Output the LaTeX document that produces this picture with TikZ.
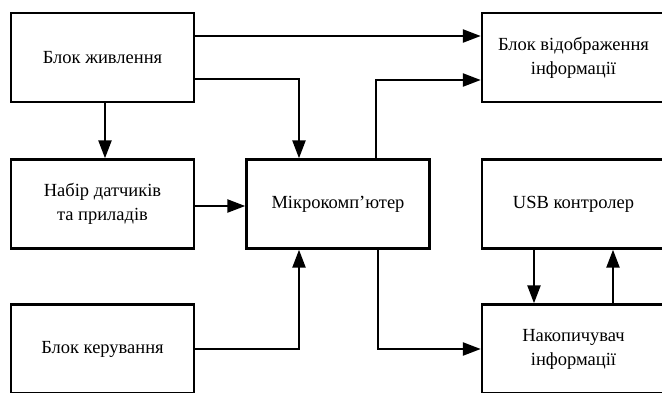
\documentclass[tikz,border=0pt]{standalone}
\usepackage{fontspec}
\setmainfont{Liberation Serif}
\usetikzlibrary{arrows.meta}
\tikzset{
    blok/.style={draw, line width=2.4pt, minimum width=183pt, minimum height=89pt,
        align=center, font=\fontsize{18.5}{24}\selectfont, inner sep=0pt},
    strilka/.style={line width=2.4pt, -{Triangle[length=18pt,width=13pt]}},
}

\begin{document}
\begin{tikzpicture}[x=1pt, y=-1pt]
    \useasboundingbox (0,0) rectangle (662,392);
    \clip (0,0) rectangle (662,392);
    \node[blok] (zhyvl) at (102.5,57.5) {Блок живлення};
    \node[blok] (datch) at (102.5,204) {Набір датчиків\\та приладів};
    \node[blok] (keruv) at (102.5,349) {Блок керування};
    \node[blok] (mikro) at (338,204) {Мікрокомп’ютер};
    \node[blok] (vidobr) at (573.5,57.5) {Блок відображення\\інформації};
    \node[blok] (usb) at (573.5,204) {USB контролер};
    \node[blok] (nakop) at (573.5,349) {Накопичувач\\інформації};
    % zv'yazky
    \draw[strilka] ([yshift=21.5pt]zhyvl.east) -- ([yshift=21.5pt]vidobr.west);
    \draw[strilka] ([yshift=-21.5pt]zhyvl.east) -| ([xshift=-39pt]mikro.north);
    \draw[strilka] ([xshift=2.5pt]zhyvl.south) -- ([xshift=2.5pt]datch.north);
    \draw[strilka] ([yshift=-2pt]datch.east) -- ([yshift=-2pt]mikro.west);
    \draw[strilka] (keruv.east) -| ([xshift=-39pt]mikro.south);
    \draw[strilka] ([xshift=38pt]mikro.north) |- ([yshift=-22.5pt]vidobr.west);
    \draw[strilka] ([xshift=40pt]mikro.south) |- (nakop.west);
    \draw[strilka] ([xshift=-39.5pt]usb.south) -- ([xshift=-39.5pt]nakop.north);
    \draw[strilka] ([xshift=39.5pt]nakop.north) -- ([xshift=39.5pt]usb.south);
\end{tikzpicture}
\end{document}
